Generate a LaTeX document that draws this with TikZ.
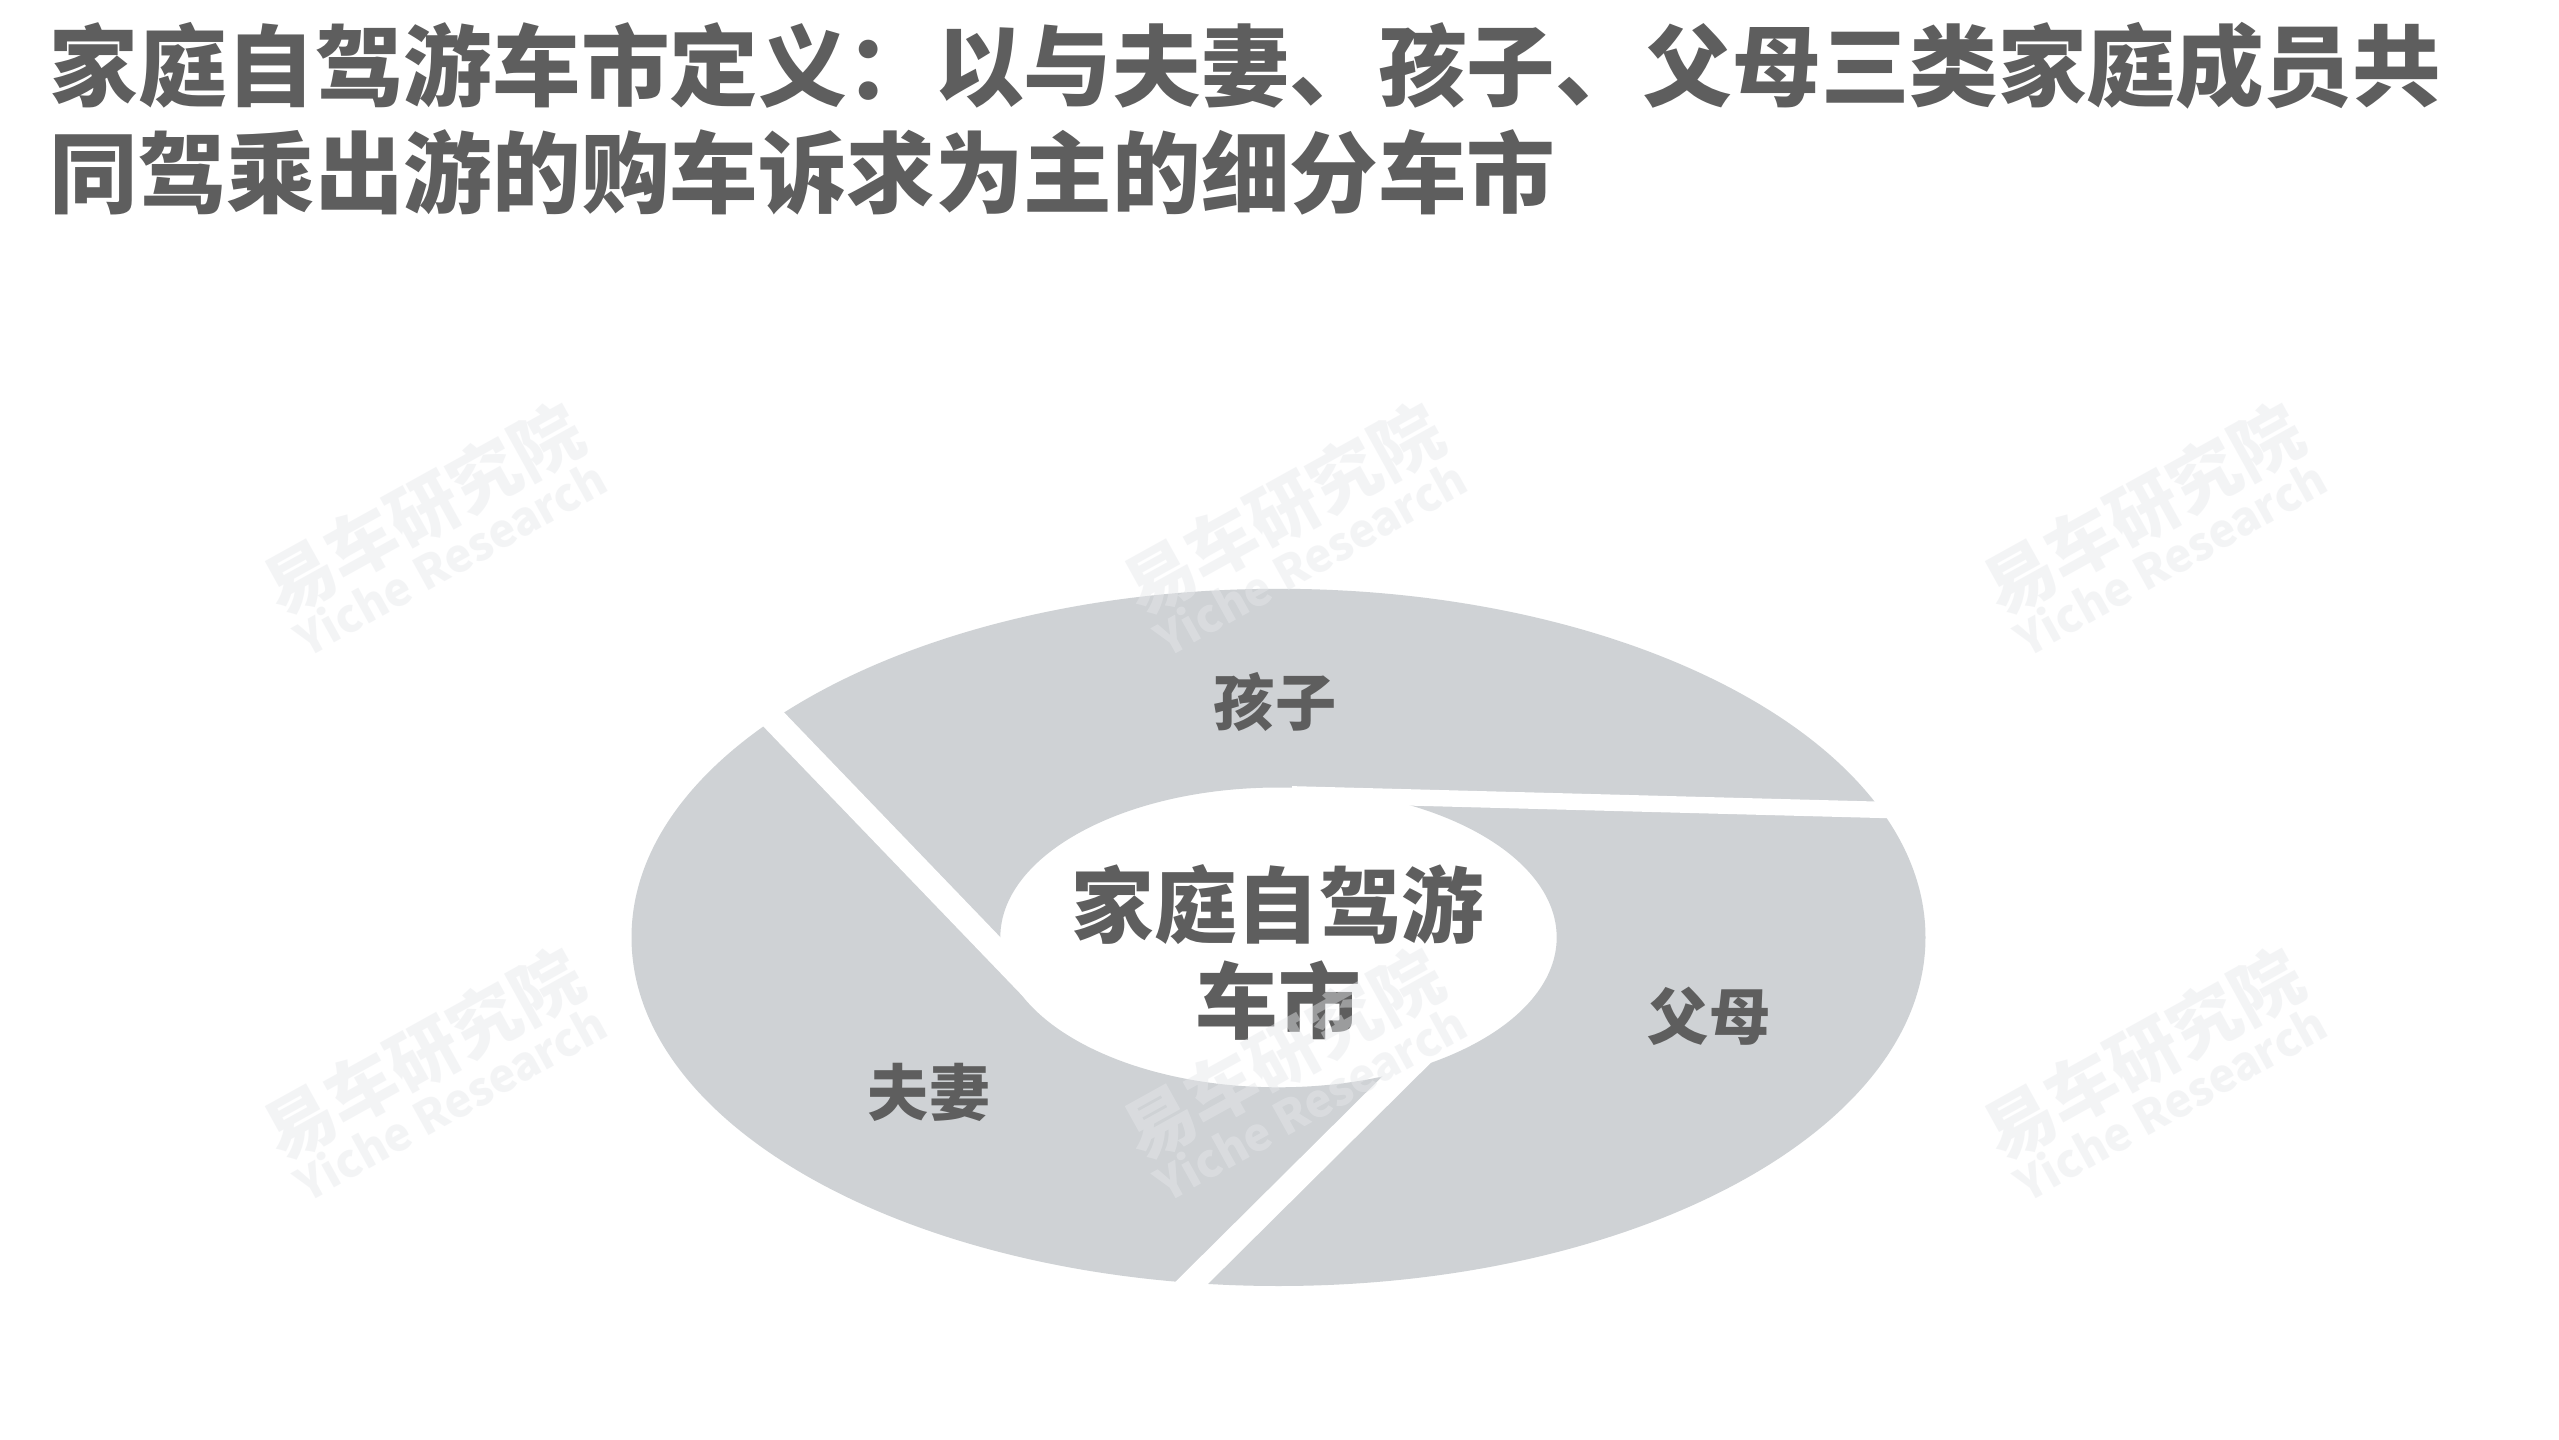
\documentclass[tikz,border=0pt]{standalone}
\usepackage{fontspec}
\newfontfamily\cjk{Noto Sans CJK SC}
\definecolor{ringgray}{HTML}{CFD2D5}
\definecolor{inkgray}{HTML}{5E5E5E}
\definecolor{markgray}{HTML}{E6E8EB}
\tikzset{
  headline/.style={anchor=west, inner sep=0pt, text=inkgray,
    font=\cjk\bfseries\fontsize{25.2}{30}\selectfont},
  seglabel/.style={inner sep=0pt, text=inkgray,
    font=\cjk\bfseries\fontsize{17.4}{20}\selectfont},
  hub/.style={inner sep=0pt, align=center, text=inkgray,
    font=\cjk\bfseries\fontsize{23.5}{27.3}\selectfont},
  watermark/.style={inner sep=0pt, align=center, rotate=29, text=markgray,
    text opacity=0.45, font=\cjk\bfseries\fontsize{13}{13.5}\selectfont}
}
\begin{document}
\begin{tikzpicture}
  \useasboundingbox (0,0) rectangle (25.59,14.39);
  \fill[white] (0,0) rectangle (25.59,14.39);
  \draw (0.49,13.73) node[headline] (head1) {家庭自驾游车市定义：以与夫妻、孩子、父母三类家庭成员共}
        (0.49,12.67) node[headline] (head2) {同驾乘出游的购车诉求为主的细分车市};
  \begin{scope}[shift={(12.785,5.016)}, xscale=6.47, yscale=3.486]
    \fill[ringgray, even odd rule] (0,0) circle (1) (0,0) circle (0.43);
    \foreach \ang/\off in {87.2/0.411, 207.4/0.405, 331.5/0.355}
      \fill[white, rotate=\ang-90] (0,\off-0.0235) rectangle (1.3,\off+0.0235);
  \end{scope}
  \draw (12.75,7.37) node[seglabel] (kids) {孩子}
        (17.09,4.23) node[seglabel] (parents) {父母}
        (9.29,3.47) node[seglabel] (couple) {夫妻}
        (12.78,4.87) node[hub] (market) {家庭自驾游\\车市};
  \foreach \i in {0,1,2}
    \foreach \j in {0,1}
      \node[watermark] (wm\i\j) at ({4.33+8.6*\i},{9.12-5.45*\j})
        {{\fontsize{20}{24}\selectfont 易车研究院}\\Yiche Research};
\end{tikzpicture}
\end{document}
